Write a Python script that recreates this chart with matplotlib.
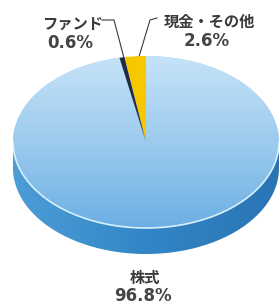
import numpy as np
import matplotlib
matplotlib.use("Agg")
import matplotlib.pyplot as plt
from matplotlib.colors import LinearSegmentedColormap
from matplotlib.patches import Polygon

plt.rcParams['font.family'] = ['Noto Sans CJK JP', 'DejaVu Sans']

labels = ["現金・その他", "ファンド", "株式"]
shares = [2.6, 0.6, 96.8]
colors = ["#f7c800", "#1d2b48", "#9fcdef"]

W, H = 279, 307
fig = plt.figure(figsize=(W / 100, H / 100), dpi=100)
bg = fig.add_axes([0, 0, 1, 1])
bg.set_xlim(0, W); bg.set_ylim(H, 0); bg.axis("off")

# ellipse geometry in pixels: centre, radii, side depth
cx, cy, rx, ry, depth = 146, 142, 133, 86, 26
d = depth / ry
top, bottom = cy - ry, cy + ry + depth
ax = fig.add_axes([(cx - rx) / W, 1 - bottom / H, 2 * rx / W, (bottom - top) / H])

# side band (front half of the disc)
t = np.linspace(np.pi, 2 * np.pi, 200)
xs, ys = np.cos(t), np.sin(t)
side = np.concatenate([np.c_[xs, ys], np.c_[xs[::-1], ys[::-1] - d]])
side_patch = Polygon(side, closed=True, fc="none", ec="none")
ax.add_patch(side_patch)
side_cmap = LinearSegmentedColormap.from_list("side", ["#4d9dd6", "#3386c6", "#2a74b4"])
im = ax.imshow(np.linspace(0, 1, 256).reshape(1, -1), extent=[-1, 1, -1 - d, 0],
               cmap=side_cmap, aspect="auto", zorder=1)
im.set_clip_path(side_patch)

# top face
wedges, _ = ax.pie(shares, colors=colors, startangle=90, counterclock=True,
                   radius=1, wedgeprops=dict(linewidth=0))
for w in wedges:
    w.set_zorder(2)
top_cmap = LinearSegmentedColormap.from_list("top", ["#c6e3f8", "#9ccbee", "#6cafe4"])
im2 = ax.imshow(np.linspace(0, 1, 256).reshape(-1, 1), extent=[-1, 1, -1, 1],
                cmap=top_cmap, aspect="auto", zorder=3)
im2.set_clip_path(wedges[2])
wedges[0].set_zorder(4); wedges[1].set_zorder(4)

# rim highlight
ax.plot(xs, ys, color="#d8f0fc", lw=1.2, zorder=5)
ax.set_aspect("auto")
ax.set_xlim(-1, 1); ax.set_ylim(-1 - d, 1); ax.axis("off")

# labels + leader lines
jp = dict(ha="center", va="center", fontsize=11, color="#3a3a3a", fontweight="bold")
num = dict(ha="center", va="center", fontsize=12, color="#444444",
           family="DejaVu Sans", fontweight="bold")
label_pos = [(209, 22, 207, 41), (73, 24, 70, 43), (145, 278, 143, 296)]
for lab, val, (xl, yl, xn, yn) in zip(labels, shares, label_pos):
    bg.text(xl, yl, lab, **jp)
    bg.text(xn, yn, f"{val}%", **num)
bg.plot([102, 114, 125], [20, 20, 62], color="#3a3a3a", lw=0.8)
bg.plot([157, 150, 138], [18, 20, 60], color="#3a3a3a", lw=0.8)

fig.savefig("out.png", dpi=100)
